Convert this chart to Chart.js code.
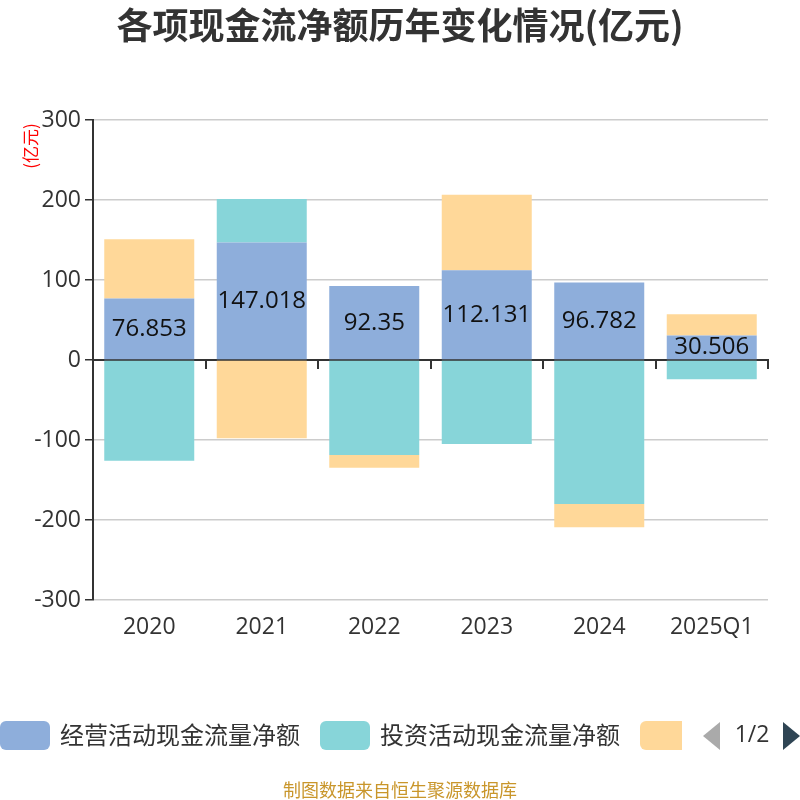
<!DOCTYPE html>
<html>
<head>
<meta charset="utf-8">
<script src="https://cdn.jsdelivr.net/npm/chart.js"></script>
<style>
  html, body { margin: 0; padding: 0; background: #fff; }
  #wrap { width: 800px; height: 800px; position: relative; }
</style>
</head>
<body>
<div id="wrap"><canvas id="chart" width="800" height="800"></canvas></div>
<script>
const FONT = '"Noto Sans CJK SC", "Noto Sans", sans-serif';
const NUM_FONT = '"Open Sans", "Noto Sans CJK SC", sans-serif';

// chart data
const categories = ['2020', '2021', '2022', '2023', '2024', '2025Q1'];
const operating = [76.853, 147.018, 92.35, 112.131, 96.782, 30.506];
const investing = [-126, 54.2, -118.8, -105, -180, -24.2];
const financing = [74, -97.9, -15.9, 94.5, -29, 26.6];
const seriesNames = ['经营活动现金流量净额', '投资活动现金流量净额', '筹资活动现金流量净额'];
const seriesColors = ['#8eaedb', '#87d5d9', '#ffd899'];
const yTicks = [-300, -200, -100, 0, 100, 200, 300];

// value labels on the operating series
const valueLabels = {
  id: 'valueLabels',
  afterDatasetsDraw(chart) {
    const ctx = chart.ctx;
    const meta = chart.getDatasetMeta(0);
    ctx.save();
    ctx.font = '24px ' + NUM_FONT;
    ctx.fillStyle = '#111';
    ctx.textAlign = 'center';
    ctx.textBaseline = 'middle';
    meta.data.forEach((bar, i) => {
      const p = bar.getProps(['x', 'y', 'base'], true);
      ctx.fillText(String(operating[i]), p.x, (p.y + p.base) / 2);
    });
    ctx.restore();
  }
};

// title, unit label, legend with pager, source line
const extras = {
  id: 'extras',
  afterDraw(chart) {
    const ctx = chart.ctx;
    ctx.save();
    ctx.font = 'bold 36px ' + FONT;
    ctx.fillStyle = '#333';
    ctx.textAlign = 'center';
    ctx.textBaseline = 'middle';
    ctx.fillText('各项现金流净额历年变化情况(亿元)', 400, 25);
    ctx.restore();

    // unit
    ctx.save();
    ctx.translate(31, 146);
    ctx.rotate(-Math.PI / 2);
    ctx.font = '17px ' + FONT;
    ctx.fillStyle = '#ff0000';
    ctx.textAlign = 'center';
    ctx.textBaseline = 'middle';
    ctx.fillText('(亿元)', 0, 0);
    ctx.restore();

    // legend (clipped like the original, page 1 of 2)
    ctx.save();
    ctx.beginPath();
    ctx.rect(0, 700, 682, 70);
    ctx.clip();
    ctx.font = '24px ' + FONT;
    ctx.textBaseline = 'middle';
    ctx.textAlign = 'left';
    let x = 0;
    chart.data.datasets.forEach(ds => {
      ctx.fillStyle = ds.backgroundColor;
      ctx.beginPath();
      ctx.roundRect(x, 721, 50, 29, 6);
      ctx.fill();
      ctx.fillStyle = '#333';
      ctx.fillText(ds.label, x + 60, 735);
      x += 60 + ctx.measureText(ds.label).width + 20;
    });
    ctx.restore();

    ctx.save();
    ctx.fillStyle = '#aaaaaa';
    ctx.beginPath();
    ctx.moveTo(720, 722);
    ctx.lineTo(703, 736);
    ctx.lineTo(720, 750);
    ctx.closePath();
    ctx.fill();
    ctx.fillStyle = '#2f4554';
    ctx.beginPath();
    ctx.moveTo(783, 722);
    ctx.lineTo(800, 736);
    ctx.lineTo(783, 750);
    ctx.closePath();
    ctx.fill();
    ctx.font = '23px ' + NUM_FONT;
    ctx.fillStyle = '#333';
    ctx.textAlign = 'center';
    ctx.textBaseline = 'middle';
    ctx.fillText('1/2', 752, 735);

    ctx.font = '18px ' + FONT;
    ctx.fillStyle = '#c9962b';
    ctx.fillText('制图数据来自恒生聚源数据库', 400, 790);
    ctx.restore();
  }
};

new Chart(document.getElementById('chart'), {
  type: 'bar',
  data: {
    labels: categories,
    datasets: [
      { label: seriesNames[0], data: operating, backgroundColor: seriesColors[0] },
      { label: seriesNames[1], data: investing, backgroundColor: seriesColors[1] },
      { label: seriesNames[2], data: financing, backgroundColor: seriesColors[2] }
    ]
  },
  options: {
    responsive: false,
    animation: false,
    devicePixelRatio: 1,
    layout: { padding: { left: 0, right: 32, top: 120, bottom: 160 } },
    datasets: { bar: { categoryPercentage: 1, barPercentage: 0.8 } },
    plugins: {
      legend: { display: false },
      tooltip: { enabled: false },
      title: { display: false }
    },
    scales: {
      x: {
        stacked: true,
        border: { display: false },
        grid: { display: false },
        ticks: { color: '#333', font: { family: NUM_FONT, size: 23 }, padding: 6 },
        afterFit(scale) { scale.height = 40; }
      },
      x2: {
        type: 'category',
        labels: categories,
        position: { y: 0 },
        offset: true,
        border: { display: true, color: '#333', width: 2 },
        grid: { offset: true, drawOnChartArea: false, drawTicks: true, tickLength: 8, color: '#333', tickColor: '#333', lineWidth: 2 },
        ticks: { display: false }
      },
      y: {
        stacked: true,
        min: -300,
        max: 300,
        afterBuildTicks(scale) { scale.ticks = yTicks.map(v => ({ value: v })); },
        border: { display: true, color: '#333', width: 2 },
        grid: { color: '#cccccc', lineWidth: 1.5, tickLength: 8, tickColor: '#333' },
        ticks: { color: '#333', font: { family: NUM_FONT, size: 23 }, padding: 4 },
        afterFit(scale) { scale.width = 93; }
      }
    }
  },
  plugins: [valueLabels, extras]
});
</script>
</body>
</html>
